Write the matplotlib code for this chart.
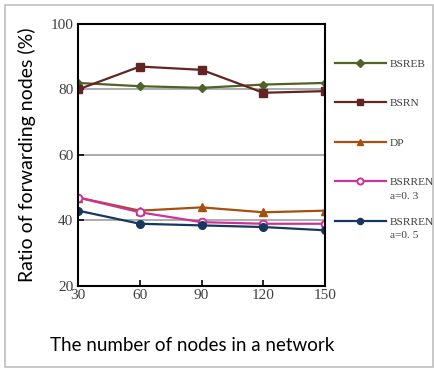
import matplotlib
matplotlib.use("Agg")
import matplotlib.pyplot as plt
from matplotlib.patches import Rectangle

# data
nodes = [30, 60, 90, 120, 150]
bsreb = [82, 81, 80.5, 81.5, 82]
bsrn = [80, 87, 86, 79, 79.5]
dp = [47, 43, 44, 42.5, 43]
bsrren_03 = [47, 42.5, 39.5, 39, 39]
bsrren_05 = [43, 39, 38.5, 38, 37]

labels = ["BSREB", "BSRN", "DP", "BSRREN", "BSRREN"]
sublabels = [None, None, None, "a=0. 3", "a=0. 5"]
colors = ["#4F6228", "#632523", "#A5500E", "#CC3399", "#17375E"]
markers = ["D", "s", "^", "o", "o"]
series = [bsreb, bsrn, dp, bsrren_03, bsrren_05]

serif = "Liberation Serif"

fig = plt.figure(figsize=(4.34, 3.69), dpi=100)
ax = fig.add_axes([0.18, 0.225, 0.569, 0.71])

for ys, lab, c, m in zip(series, labels, colors, markers):
    kw = dict(color=c, marker=m, lw=1.6, label=lab)
    if m == "D":
        kw["markersize"] = 4.5
    elif m == "o" and c == "#CC3399":
        kw.update(markersize=5.5, markerfacecolor="white", markeredgewidth=1.4)
    else:
        kw["markersize"] = 5.5
    ax.plot(nodes, ys, **kw)

ax.set_xlim(30, 150)
ax.set_ylim(20, 100)
ax.set_xticks(nodes)
ax.set_yticks([20, 40, 60, 80, 100])
for v in [40, 60, 80]:
    ax.axhline(v, color="#A6A6A6", lw=1.3, zorder=0)
for s in ax.spines.values():
    s.set_linewidth(1.5)
ax.tick_params(direction="in", length=4, width=1.2, labelsize=11)
for t in ax.get_xticklabels() + ax.get_yticklabels():
    t.set_fontfamily(serif)
    t.set_color("#404040")
ax.tick_params(axis="x", pad=2)

ax.set_ylabel("Ratio of forwarding nodes (%)", fontsize=14, family="Lato", labelpad=10)
fig.text(0.115, 0.05, "The number of nodes in a network", fontsize=13.5, family="Lato")

leg = ax.legend(loc="upper left", bbox_to_anchor=(1.02, 0.885), frameon=False,
                handlelength=4.5, labelspacing=2.6, handletextpad=0.35, markerscale=0.8,
                borderaxespad=0, prop={"family": serif, "size": 8.2})
for t in leg.get_texts():
    t.set_color("#404040")
fig.canvas.draw()
inv = fig.transFigure.inverted()
for t, sub in zip(leg.get_texts(), sublabels):
    if sub:
        bb = t.get_window_extent()
        x0, y0 = inv.transform((bb.x0, bb.y0))
        fig.text(x0, y0 - 0.012, sub, fontsize=8.2, family=serif, color="#404040", va="top")

fig.patches.append(Rectangle((0.012, 0.005), 0.985, 0.982, transform=fig.transFigure,
                             fill=False, edgecolor="#BFBFBF", lw=1.2))

fig.savefig("out.png", dpi=100)
